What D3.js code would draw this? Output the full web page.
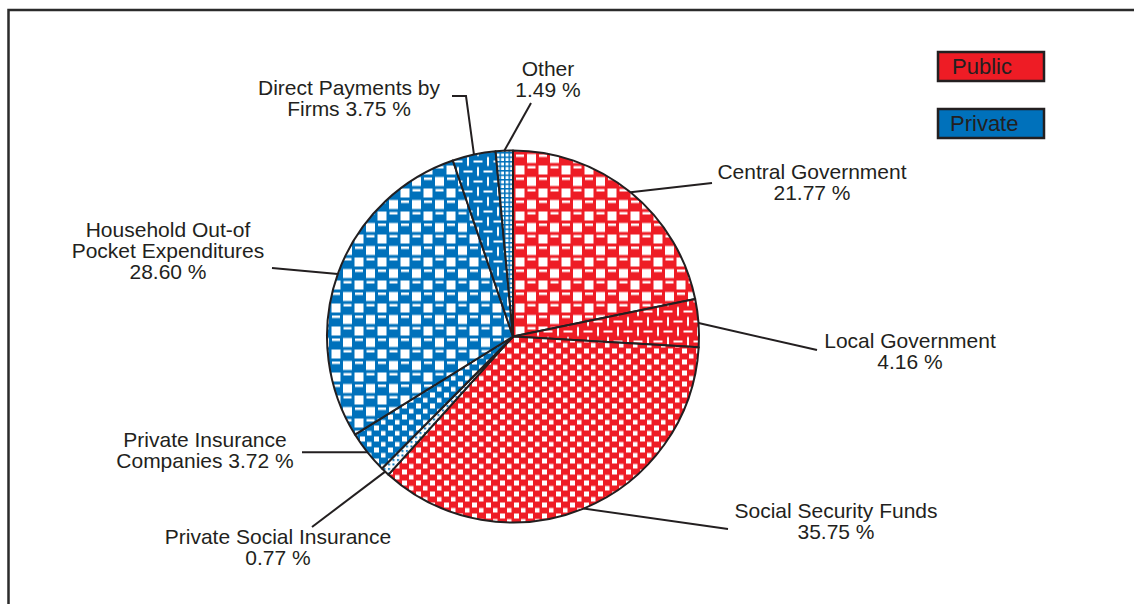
<!DOCTYPE html>
<html>
<head>
<meta charset="utf-8">
<script src="https://cdn.jsdelivr.net/npm/d3@7"></script>
<style>
  html, body { margin: 0; padding: 0; background: #fff; }
  svg { display: block; }
  text { font-family: "Liberation Sans", Arial, Helvetica, sans-serif; fill: #231f20; }
</style>
</head>
<body>
<svg id="chart" width="1134" height="604"></svg>
<script>
// Health expenditure by financing source (share of total, %)
const categories = [
  "Central Government", "Local Government", "Social Security Funds",
  "Private Social Insurance", "Private Insurance Companies",
  "Household Out-of Pocket Expenditures", "Direct Payments by Firms", "Other"
];
const values = [21.77, 4.16, 35.75, 0.77, 3.72, 28.60, 3.75, 1.49];
const sectors = ["Public", "Public", "Public", "Private", "Private", "Private", "Private", "Private"];
// hatch style used for each slice
const fills = ["checker", "weave", "stagger", "dots", "stagger", "checker", "weave", "grid"];
// label lines; the value is appended to the last line
const labelLines = [
  ["Central Government", ""],
  ["Local Government", ""],
  ["Social Security Funds", ""],
  ["Private Social Insurance", ""],
  ["Private Insurance", "Companies "],
  ["Household Out-of", "Pocket Expenditures", ""],
  ["Direct Payments by", "Firms "],
  ["Other", ""]
];
const legendItems = ["Public", "Private"];

// layout: label anchor (x, first baseline) and leader end points
const labelPos = [
  [812, 179], [910, 348], [836, 518], [278, 544],
  [205, 447], [168, 237], [349, 95], [548, 76]
];
const leaderEnds = [
  [[712, 183]], [[817, 350]], [[728, 529]], [[312, 527]],
  [[302, null]], [[272, 268]], [[466, 96], [452, 96]], [[531, 103]]
];

const colors = { Public: "#ee1c25", Private: "#0071bb" };
const ink = "#231f20";

const svg = d3.select("#chart");
const defs = svg.append("defs");

// pattern builders
function addRects(p, list, color) {
  list.forEach(r => p.append("rect")
    .attr("x", r[0]).attr("y", r[1]).attr("width", r[2]).attr("height", r[3])
    .attr("fill", color));
}
function makePattern(id, color, kind) {
  const size = { checker: [23, 23], weave: [20, 20], stagger: [14, 11], grid: [4.5, 4.5], dots: [4.5, 4.5] }[kind];
  const p = defs.append("pattern").attr("id", id).attr("patternUnits", "userSpaceOnUse")
    .attr("width", size[0]).attr("height", size[1]);
  const bg = kind === "dots" ? "#fff" : color;
  p.append("rect").attr("width", size[0]).attr("height", size[1]).attr("fill", bg);
  if (kind === "checker") {
    addRects(p, [[14, 1.5, 9, 9], [2.5, 13, 9, 9], [3, 2, 8, 2.5], [14.5, 13.5, 8, 2.5]], "#fff");
  } else if (kind === "weave") {
    addRects(p, [[0.5, 4, 9, 2], [10.5, 14, 9, 2], [14, 0.5, 2, 9], [4, 10.5, 2, 9]], "#fff");
  } else if (kind === "stagger") {
    addRects(p, [[1, 1, 5, 5], [8, 6.5, 4.5, 4.5]], "#fff");
  } else if (kind === "grid") {
    addRects(p, [[1.5, 1.5, 3, 3]], "#fff");
  } else {
    addRects(p, [[1, 1, 2, 2]], color);
  }
}
const patternIds = values.map((v, i) => {
  const id = `pat-${fills[i]}-${sectors[i]}`;
  if (defs.select("#" + id).empty()) makePattern(id, colors[sectors[i]], fills[i]);
  return id;
});

// frame (top and left rules)
svg.append("path")
  .attr("d", "M8.5,604 L8.5,10 L1134,10")
  .attr("fill", "none").attr("stroke", "#2b2b2b").attr("stroke-width", 2.5);

// pie
const cx = 513, cy = 336.5, radius = 186;
const pie = d3.pie().sort(null).value(d => d);
const arcs = pie(values);
const arc = d3.arc().innerRadius(0).outerRadius(radius);

const g = svg.append("g").attr("transform", `translate(${cx},${cy})`);
g.selectAll("path.slice")
  .data(arcs)
  .join("path")
  .attr("class", "slice")
  .attr("d", arc)
  .attr("fill", (d, i) => `url(#${patternIds[i]})`)
  .attr("stroke", ink)
  .attr("stroke-width", 2)
  .attr("stroke-linejoin", "round");

// leader lines from each slice's outer edge to its label
arcs.forEach((d, i) => {
  const mid = (d.startAngle + d.endAngle) / 2;
  const sx = cx + radius * Math.sin(mid);
  const sy = cy - radius * Math.cos(mid);
  const pts = [[sx, sy]].concat(leaderEnds[i].map(p => [p[0], p[1] === null ? sy : p[1]]));
  svg.append("path")
    .attr("d", d3.line()(pts))
    .attr("fill", "none")
    .attr("stroke", ink)
    .attr("stroke-width", 2);
});

// labels
const fmt = d3.format(".2f");
labelLines.forEach((lines, i) => {
  const t = svg.append("text")
    .attr("x", labelPos[i][0]).attr("y", labelPos[i][1])
    .attr("text-anchor", "middle")
    .style("font-size", "21px");
  lines.forEach((ln, j) => {
    const s = j === lines.length - 1 ? ln + fmt(values[i]) + " %" : ln;
    t.append("tspan").attr("x", labelPos[i][0]).attr("dy", j === 0 ? 0 : 21).text(s);
  });
});

// legend
const legend = svg.append("g").attr("transform", "translate(938,52)");
legendItems.forEach((name, i) => {
  const row = legend.append("g").attr("transform", `translate(0,${i * 57})`);
  row.append("rect")
    .attr("width", 106).attr("height", 29)
    .attr("fill", colors[name])
    .attr("stroke", ink).attr("stroke-width", 2.5);
  row.append("text")
    .attr("x", i === 0 ? 14 : 12).attr("y", 22)
    .style("font-size", "22px")
    .text(name);
});
</script>
</body>
</html>
